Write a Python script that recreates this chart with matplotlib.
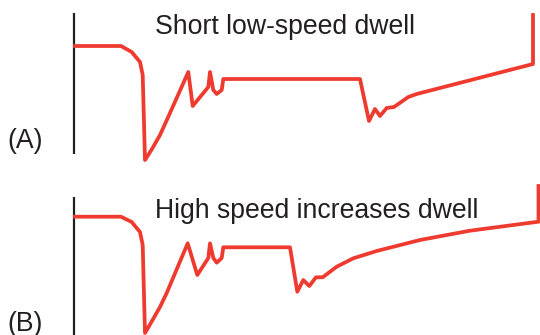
import matplotlib.pyplot as plt

plt.rcParams['font.family'] = ['Liberation Sans', 'DejaVu Sans']

red = '#ee3a2f'

# trace A (short low-speed dwell), x and y in image units
xa = [75, 121, 131.7, 140, 142.7, 145, 152, 160, 170, 188.3, 192.7, 208.3, 210, 213.3,
      216.7, 221.7, 223.3, 360, 369, 375, 380, 386.7, 394, 408.3, 416.7, 533, 533]
ya = [46, 46, 52, 62, 75, 160, 149, 135, 113, 72, 106, 87, 72, 90,
      94, 90, 79, 79, 121, 109, 116, 108, 107, 97, 94, 64, 15]

# trace B (high speed increases dwell)
xb = [75, 121, 131.7, 140, 142.7, 145, 152, 160, 166.7, 187.7, 197.3, 208.3, 210, 213.3,
      216.7, 221.7, 223.3, 290, 297.3, 303.3, 309.3, 316, 322.7, 336.7, 353.3,
      376.7, 420, 470, 538.5, 538.5]
yb = [216.7, 216.7, 222, 232, 245, 333, 321, 307, 293, 243.3, 275, 258, 243.3, 258,
      262.7, 258, 247.3, 247.3, 291.7, 280, 286, 277.3, 277.3, 266.7, 258.3,
      251, 240, 230.7, 221.7, 186]

fig = plt.figure(figsize=(5.4, 3.35), dpi=100)
ax = fig.add_axes([0, 0, 1, 1])
ax.set_xlim(0, 540)
ax.set_ylim(335, 0)
ax.axis('off')

# axis bars
ax.plot([74.3, 74.3], [13, 154], color='#231f20', lw=1.6, solid_capstyle='butt')
ax.plot([74.3, 74.3], [197, 335], color='#231f20', lw=1.6, solid_capstyle='butt')

ax.plot(xa, ya, color=red, lw=2.7, solid_joinstyle='round')
ax.plot(xb, yb, color=red, lw=2.7, solid_joinstyle='round')

ax.text(155, 27, 'Short low-speed dwell', fontsize=19.2, color='#231f20', va='center', ha='left')
ax.text(155, 211, 'High speed increases dwell', fontsize=19.2, color='#231f20', va='center', ha='left')
ax.text(7, 141, '(A)', fontsize=19.2, color='#231f20', va='center', ha='left')
ax.text(7, 324, '(B)', fontsize=19.2, color='#231f20', va='center', ha='left')

fig.savefig('out.png', dpi=100)
